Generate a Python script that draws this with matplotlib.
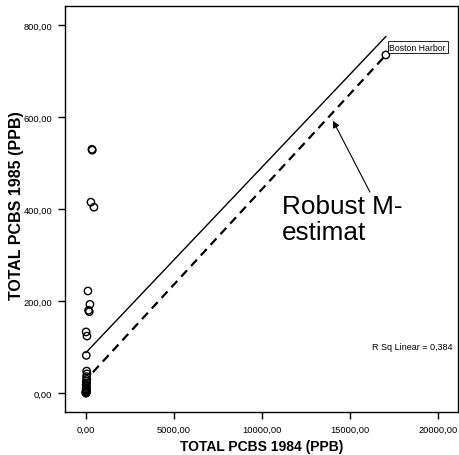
import numpy as np
import matplotlib.pyplot as plt
from matplotlib.ticker import FuncFormatter

plt.rcParams['font.family'] = ['Liberation Sans', 'DejaVu Sans']

# PCB concentrations per site (ppb)
pcb_1984 = [17045, 340, 360, 284, 455, 114, 227, 150, 190, 10, 60,
            20, 40, 60, 30, 50, 20, 40, 10, 30, 20, 10, 40, 20, 10, 5, 15, 0, 10, 5]
pcb_1985 = [735, 530, 528, 415, 404, 222, 193, 180, 177, 133, 124,
            82, 48, 42, 36, 30, 26, 22, 18, 15, 12, 9, 7, 5, 4, 3, 2, 1, 0.5, 0]

# fitted lines: OLS and robust M-estimate
ols_intercept, ols_slope = 88.0, 0.0403
rob_intercept, rob_slope = 29.0, 0.0414
rob_x_start = 400.0
r_sq = 0.384

fig = plt.figure(figsize=(4.59, 4.56), dpi=100)
ax = fig.add_axes([0.1416, 0.0943, 0.856, 0.890])

x = np.array(pcb_1984, dtype=float)
y = np.array(pcb_1985, dtype=float)

ax.scatter(x, y, s=28, facecolors='none', edgecolors='black', linewidths=1.0, zorder=3)

xs = np.array([x.min(), x.max()])
ax.plot(xs, ols_intercept + ols_slope * xs, color='black', lw=1.0)
xr = np.array([rob_x_start, x.max()])
ax.plot(xr, rob_intercept + rob_slope * xr, color='black', lw=1.6,
        dashes=(3.9, 2.6))

ax.text(17250, 752, 'Boston Harbor', fontsize=6.3, va='center', ha='left',
        bbox=dict(boxstyle='square,pad=0.2', fc='white', ec='black', lw=0.6))

ax.text(11150, 432, 'Robust M-\nestimat', fontsize=18.8, ha='left', va='top',
        linespacing=1.1)
ax.annotate('', xy=(14040, 592), xytext=(16140, 437),
            arrowprops=dict(arrowstyle='-|>', color='black', lw=0.8,
                            mutation_scale=10, shrinkA=0, shrinkB=0))

ax.text(0.985, 0.1626, 'R Sq Linear = %s' % f'{r_sq:.3f}'.replace('.', ','),
        transform=ax.transAxes, fontsize=6.5, ha='right', va='center')

ax.set_xlim(-1190, 21140)
ax.set_ylim(-41, 841)
ax.set_xticks([0, 5000, 10000, 15000, 20000])
ax.set_yticks([0, 200, 400, 600, 800])
fmt = FuncFormatter(lambda v, p: f'{v:.2f}'.replace('.', ','))
ax.xaxis.set_major_formatter(fmt)
ax.yaxis.set_major_formatter(fmt)
ax.tick_params(labelsize=6.7, length=5, width=1, direction='out', pad=4)
for s in ax.spines.values():
    s.set_linewidth(1.0)

ax.set_xlabel('TOTAL PCBS 1984 (PPB)', fontsize=10, fontweight='bold', labelpad=4)
ax.set_ylabel('TOTAL PCBS 1985 (PPB)', fontsize=11.5, fontweight='bold')
ax.yaxis.set_label_coords(-0.105, 0.51)

fig.savefig('out.png', dpi=100)
